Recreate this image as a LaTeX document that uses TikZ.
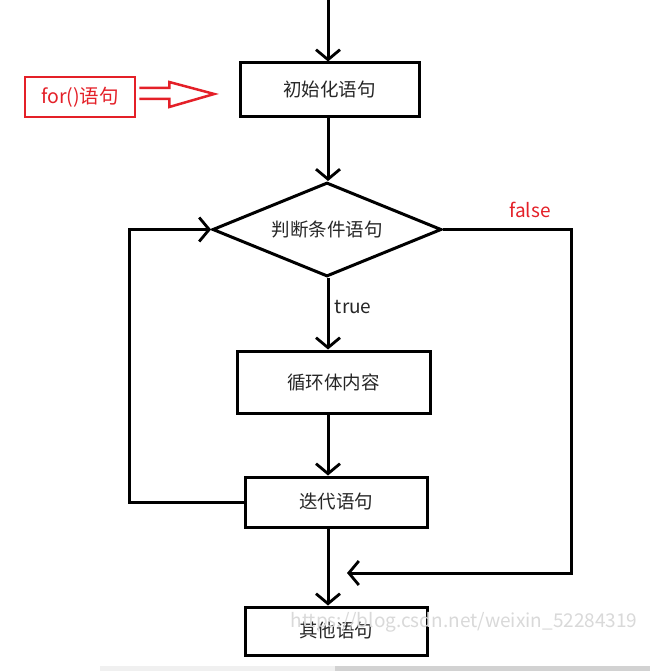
\documentclass[tikz,border=0pt]{standalone}
\usepackage{fontspec}
\setmainfont{Noto Sans CJK SC}
\usetikzlibrary{arrows.meta,shapes.geometric,calc}
\definecolor{myred}{RGB}{228,32,40}
\begin{document}
\begin{tikzpicture}[x=1pt,y=-1pt,
  box/.style={draw=black,line width=3pt,rectangle,inner sep=0pt,text=black!85,font=\fontsize{18.5}{20}\selectfont},
  flow/.style={line width=3pt,-{Straight Barb[length=10pt,width=24pt,line width=2.8pt]}},
  plain/.style={line width=3pt}]
\useasboundingbox (0,0) rectangle (650,671);
\fill[white] (0,0) rectangle (650,671);
\fill[gray!12] (100,666) rectangle (335,671);
\fill[gray!35] (335,666) rectangle (650,671);
\coordinate (top) at (328,0);
\node[box,minimum width=179pt,minimum height=54pt] (init) at (329.5,90) {初始化语句};
\node[draw=myred,line width=2.5pt,inner sep=0pt,minimum width=110pt,minimum height=40pt,text=myred,font=\fontsize{19.5}{20}\selectfont] (for) at (80,97) {for()语句};
\node[box,shape=diamond,aspect=2.45,inner sep=0pt,minimum width=229pt,minimum height=94pt] (cond) at (327,229.5) {判断条件语句};
\node[box,minimum width=193pt,minimum height=62pt] (body) at (333.5,382) {循环体内容};
\node[box,minimum width=182pt,minimum height=50pt] (iter) at (336,502) {迭代语句};
\node[box,minimum width=182pt,minimum height=48pt] (other) at (336,631) {其他语句};
% connectors
\draw[flow] (top) -- (init.north -| top);
\draw[flow] (init.south -| top) -- (cond.north -| top);
\draw[flow] (cond.south -| top) -- (body.north -| top) node[pos=0.4,right=2pt,font=\fontsize{19}{20}\selectfont,text=black!85] (tlab) {true};
\draw[flow] (body.south -| top) -- (iter.north -| top);
\draw[flow] (iter.south -| top) -- (other.north -| top);
\coordinate (fturn) at (571,229.5);
\coordinate (fend) at (347,573);
\draw[flow] (cond.east) -- (fturn) |- (fend);
\node[text=myred,font=\fontsize{19}{20}\selectfont] (flab) at (530,210) {false};
\coordinate (lturn) at (129,502);
\draw[flow] (iter.west) -- (lturn) |- (cond.west);
% hollow double arrow
\draw[myred,line width=2.5pt,line join=miter]
  ($(for.east)+(3,-9)$) -- ++(30,0) -- ++(0,-6) -- ($(for.east)+(78,-3)$) -- ($(for.east)+(33,10)$) -- ++(0,-8) -- ($(for.east)+(3,2)$);
% watermark
\node[text=gray!30,font=\fontsize{19}{20}\selectfont] (wm) at (464,622) {https://blog.csdn.net/weixin\_52284319};
\end{tikzpicture}
\end{document}
